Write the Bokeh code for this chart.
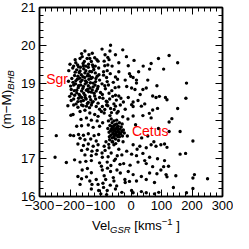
from bokeh.plotting import figure
from bokeh.models import LinearAxis, FixedTicker, Range1d, CustomJSTickFormatter, ColumnDataSource, Div
from bokeh.layouts import column
from bokeh.core.properties import value
from bokeh.embed import file_html
from bokeh.resources import INLINE

# ---- data: Sagittarius stream region ----
sgr_vel = [-151, -162, -138, -127, -144, -119, -167, -153, -130, -108,
           -181, -204, -191, -172, -156, -140, -124, -106, -183, -167,
           -151, -135, -117, -174, -158, -143, -127, -111, -194, -181,
           -165, -149, -133, -116, -103, -188, -172, -156, -140, -124,
           -108, -196, -178, -162, -146, -130, -114, -185, -167, -151,
           -135, -119, -103, -196, -174, -156, -140, -124, -108,
           -188, -174, -162, -146, -130, -114, -103, -190, -167, -151,
           -135, -119, -108, -164, -146, -130, -111, -178, -162, -140,
           -124, -103, -199, -188, -172, -156, -140, -121, -106, -167,
           -151, -132, -114, -174, -156, -140, -124, -108, -162, -143,
           -128, -111, -151, -130, -114,
           -178, -170, -163, -155, -148, -141, -136, -129, -122, -115,
           -185, -176, -168, -160, -152, -145, -138, -131, -124, -118,
           -190, -182, -173, -165, -158, -150, -142, -134, -127, -110,
           -195, -186, -178, -170, -162, -155, -147, -139, -132, -121,
           -188, -180, -172, -164, -157, -150, -143, -136, -128, -116,
           -200, -188, -175, -166, -157, -148, -139, -126, -117, -105,
           -205, -198, -201, -207, -197, -112, -135, -160, -183, -100]
sgr_dm = [19.85, 19.78, 19.75, 19.79, 19.65, 19.67, 19.65, 19.57, 19.57, 19.58,
          19.54, 19.33, 19.40, 19.43, 19.46, 19.42, 19.43, 19.40, 19.29, 19.32,
          19.27, 19.31, 19.27, 19.18, 19.17, 19.19, 19.15, 19.18, 19.12, 19.06,
          19.04, 19.06, 19.01, 19.04, 19.08, 18.95, 18.93, 18.91, 18.93, 18.90,
          18.91, 18.83, 18.81, 18.79, 18.81, 18.76, 18.79, 18.68, 18.66, 18.68,
          18.64, 18.66, 18.62, 18.54, 18.51, 18.54, 18.49, 18.51, 18.47,
          18.42, 18.36, 18.42, 18.39, 18.42, 18.38, 18.31, 18.17, 18.25, 18.28,
          18.21, 18.17, 18.12, 18.04, 18.08, 18.02, 18.00, 17.86, 17.87, 17.89,
          17.83, 17.86, 17.62, 17.61, 17.64, 17.62, 17.66, 17.61, 17.64, 17.54,
          17.50, 17.52, 17.47, 17.39, 17.35, 17.39, 17.33, 17.37, 17.22, 17.25,
          17.20, 17.22, 17.10, 17.08, 17.12,
          19.35, 19.28, 19.22, 19.38, 19.33, 19.24, 19.19, 19.30, 19.36, 19.12,
          19.20, 19.10, 19.13, 19.08, 19.15, 19.02, 19.10, 19.12, 19.00, 18.95,
          19.02, 18.98, 18.88, 18.95, 18.86, 18.98, 18.84, 18.87, 18.82, 18.85,
          18.72, 18.80, 18.74, 18.70, 18.62, 18.73, 18.58, 18.77, 18.56, 18.73,
          18.58, 18.45, 18.60, 18.52, 18.40, 18.62, 18.46, 18.35, 18.48, 18.58,
          19.50, 19.45, 19.48, 19.42, 19.52, 19.45, 19.50, 19.48, 19.45, 19.22,
          19.05, 18.92, 18.65, 18.40, 18.15, 19.62, 19.65, 19.70, 19.62, 18.75]

# ---- data: Cetus clump ----
cetus_vel = [-76, -72, -69, -66, -64, -62, -60, -58, -56, -54,
             -52, -50, -48, -46, -44, -42, -40, -38, -36, -34,
             -32, -30, -28, -25, -22, -71, -67, -63, -61, -59,
             -57, -55, -53, -51, -49, -47, -45, -43, -41, -39,
             -74, -65, -56, -47, -38, -29, -70, -60, -51, -41]
cetus_dm = [17.80, 17.70, 17.88, 17.62, 17.78, 17.95, 17.68, 17.82, 17.58, 17.74,
            17.90, 17.66, 17.80, 17.62, 17.72, 17.86, 17.70, 17.58, 17.78, 17.66,
            17.84, 17.72, 17.60, 17.76, 17.68, 17.58, 17.74, 17.85, 17.55, 17.75,
            17.65, 17.88, 17.62, 17.78, 17.70, 17.92, 17.84, 17.58, 17.78, 17.64,
            18.00, 18.05, 18.00, 18.02, 17.95, 17.92, 17.50, 17.45, 17.52, 17.48]

# ---- data: halo field stars ----
field_vel = [-245, -249, -212, -185, -167, -148, -130, -103, -160, -143,
             -130, -174, -162, -146, -135, -128, -114, -108, -167, -106,
             -130,
             -95, -85, -72, -62, -90, -80, -68, -58, -95, -84,
             -74, -63, -52, -92, -81, -70, -60, -48, -97, -86,
             -76, -64, -55, -42, -93, -82, -73, -62, -50, -95,
             -85, -75, -65, -55, -45, -97, -88, -77, -66, -58,
             -47, -92, -80, -68, -36, -30, -26, -20, -33, -40,
             -67, -69, -27, -51, -76, -88, -86, -76, -40, -9,
             66, 61, 90, -78, -90, -51, -44, -19, -1, 7,
             18, 18, 55, -78, -86, -40, -14, 2, 13, 39,
             50, 71, 82, 93, -94, -72, -51, -40, -9, 23,
             7, -25, -56, -78, 2, 85,
             125, 153, 107, 182, 113, 118, 180,
             -94, -80, -67, -51, -35, -19, 7, 34, 71, 87,
             -88, -69, -46, -27, 7, 39, 66,
             7, 29, 50, 66, 82, 98, -88, -72, -56, -40,
             -14, 2, 18, 39, 61, 87, -94, -78, -51, -24,
             -3, 23, 50, 71, 98, -94, -67, -46, -35, -9,
             7, 34, 61, -83, -56, -19, 18, 50, 77, -90,
             -78, -51, -30, 2, 7, 34, 50, 77, 91, -99,
             153, 134, 125, 125, 161, 110, 118, 203, 161, 179,
             107, 123, 115, 118, 147, 208, 203, 251, 139, 203,
             182,
             -15, 10, 25, 40, -5, 30, 45, 60, -10, 15,
             35, 55, 75, 90, -12, 20, 45, 85, 110, -5]
field_dm = [17.61, 17.04, 16.90, 16.97, 16.91, 16.93, 16.95, 16.89, 16.70, 16.74,
            16.63, 16.53, 16.47, 16.52, 16.41, 16.32, 16.45, 16.32, 16.32, 16.16,
            16.20,
            19.90, 19.75, 19.62, 19.45, 19.30, 19.15, 19.25, 19.02, 18.98, 18.85,
            18.95, 18.80, 18.88, 18.60, 18.52, 18.58, 18.65, 18.55, 18.25, 18.30,
            18.40, 18.22, 18.30, 18.25, 17.95, 17.45, 17.38, 17.45, 17.40, 17.15,
            17.22, 17.05, 17.15, 16.95, 17.08, 16.80, 16.55, 16.75, 16.82, 16.50,
            16.28, 16.35, 16.05, 16.30, 16.85, 17.10, 17.45, 16.45, 18.60, 19.30,
            20.00, 19.85, 19.88, 19.75, 19.68, 19.58, 19.46, 19.48, 19.54, 19.46,
            19.52, 19.37, 19.65, 19.33, 19.21, 19.16, 19.10, 19.08, 19.18, 19.15,
            19.08, 19.00, 19.08, 19.04, 18.93, 18.90, 18.91, 18.87, 18.83, 18.83,
            18.87, 18.66, 18.62, 18.65, 18.70, 18.73, 18.68, 18.66, 18.62, 18.54,
            18.50, 18.50, 18.45, 18.50, 18.43, 18.93,
            19.73, 19.54, 19.37, 19.00, 18.62, 18.56, 18.60,
            18.38, 18.42, 18.33, 18.39, 18.42, 18.31, 18.38, 18.39, 18.29, 18.33,
            18.21, 18.14, 18.21, 18.11, 18.13, 18.14, 18.08,
            17.37, 17.33, 17.29, 17.37, 17.33, 17.37, 17.33, 17.29, 17.37, 17.25,
            17.20, 17.12, 17.08, 17.14, 17.04, 17.00, 17.04, 16.91, 16.99, 16.87,
            16.83, 16.91, 16.87, 16.79, 16.70, 16.70, 16.66, 16.70, 16.62, 16.66,
            16.58, 16.53, 16.62, 16.45, 16.41, 16.37, 16.41, 16.45, 16.37, 16.24,
            16.16, 16.20, 16.11, 16.16, 16.10, 16.13, 16.10, 16.07, 16.11, 16.07,
            18.33, 18.06, 17.97, 17.72, 17.72, 17.39, 17.30, 17.47, 17.12, 17.14,
            16.79, 16.80, 16.58, 16.52, 16.55, 16.58, 16.49, 16.47, 16.24, 16.21,
            16.10,
            19.70, 19.60, 19.30, 19.45, 19.25, 18.70, 18.45, 18.20, 18.05, 17.90,
            17.55, 17.60, 17.45, 17.80, 17.60, 17.25, 16.95, 16.60, 16.95, 16.40]

# ---- annotations ----
tag_names = ["Sgr", "Cetus"]
tag_vel = [-278, 3]
tag_dm = [19.10, 17.73]

x_major = [-300, -200, -100, 0, 100, 200, 300]
y_major = [16, 17, 18, 19, 20, 21]

FONT = "Liberation Sans"

p = figure(width=233, height=218, x_range=Range1d(-300, 300), y_range=Range1d(16, 21),
           output_backend="svg", toolbar_location=None,
           min_border_left=39, min_border_right=11, min_border_top=7, min_border_bottom=22)
p.margin = 0
p.background_fill_color = "white"
p.border_fill_color = "white"
p.xgrid.visible = False
p.ygrid.visible = False
p.outline_line_color = "black"
p.outline_line_width = 1.5

x_minor = [v for v in range(-300, 301, 20)]
y_minor = [16 + 0.2 * i for i in range(26)]
xt = FixedTicker(ticks=x_major, minor_ticks=x_minor)
yt = FixedTicker(ticks=y_major, minor_ticks=y_minor)

blank = CustomJSTickFormatter(code="return ''")

def style(ax, labels=True):
    ax.major_tick_in = 7
    ax.major_tick_out = 0
    ax.minor_tick_in = 4
    ax.minor_tick_out = 0
    ax.axis_line_color = "black"
    ax.axis_line_width = 1.5
    ax.major_tick_line_color = "black"
    ax.minor_tick_line_color = "black"
    ax.major_tick_line_width = 1
    ax.minor_tick_line_width = 1
    ax.major_label_text_font = FONT
    ax.major_label_text_font_size = "13px"
    ax.major_label_text_color = "black"
    ax.major_label_standoff = 4
    if not labels:
        ax.formatter = blank
        ax.major_label_standoff = 0

p.xaxis.ticker = xt
p.yaxis.ticker = yt
for ax in p.xaxis:
    style(ax)
for ax in p.yaxis:
    style(ax)

top = LinearAxis(ticker=FixedTicker(ticks=x_major, minor_ticks=x_minor))
right = LinearAxis(ticker=FixedTicker(ticks=y_major, minor_ticks=y_minor))
style(top, labels=False)
style(right, labels=False)
p.add_layout(top, "above")
p.add_layout(right, "right")

vel = sgr_vel + cetus_vel + field_vel
dm = sgr_dm + cetus_dm + field_dm
src = ColumnDataSource(data=dict(vel=vel, dm=dm))
p.scatter("vel", "dm", source=src, size=3.4, fill_color="black", line_color=None)

tsrc = ColumnDataSource(data=dict(x=tag_vel, y=tag_dm, t=tag_names))
p.text("x", "y", text="t", source=tsrc, text_color="red", text_font=value(FONT),
       text_font_size="14px", text_baseline="middle", text_align="left")

# axis titles as HTML text (subscripts / superscripts), in a strip under the figure;
# the vertical title is positioned upward into the figure's left margin.
base = "font-family:'Liberation Sans',Arial,sans-serif;color:black;white-space:nowrap;"
sub = "font-size:9.5px;font-style:italic;position:relative;top:3px;"
sup = "font-size:9.5px;position:relative;top:-5px;"

titles = Div(text=(
    "<div style=\"position:relative;width:233px;height:15px;overflow:visible;\">"
    f"<div style=\"{base}font-size:13px;line-height:15px;position:absolute;left:92px;top:0px;\">"
    f"Vel<span style=\"{sub}\">GSR</span> [kms<span style=\"{sup}\">\u22121</span> ]</div>"
    f"<div style=\"{base}font-size:13.5px;line-height:14px;position:absolute;left:0px;top:-89px;"
    f"transform:rotate(-90deg);transform-origin:left top;\">"
    f"(m\u2212M)<span style=\"{sub}\">BHB</span></div>"
    "</div>"),
    width=233, height=15, margin=0, styles={"overflow": "visible", "z-index": "10"})

layout = column(p, titles, spacing=0)

open("out.html", "w").write(file_html(layout, INLINE))
